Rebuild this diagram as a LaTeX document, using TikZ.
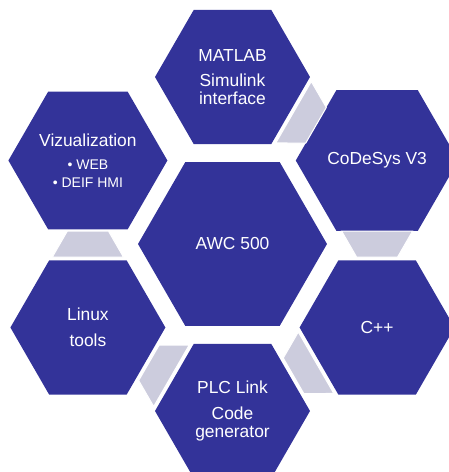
\documentclass[tikz,border=0pt]{standalone}
\usepackage{fontspec}
\setmainfont{Liberation Sans}
\usetikzlibrary{shapes.geometric,calc}
\definecolor{hexblue}{RGB}{51,51,153}
\definecolor{linkgrey}{RGB}{204,204,221}
\tikzset{
  hexcell/.style={regular polygon,regular polygon sides=6,fill=hexblue,inner sep=0pt,
    minimum size=155pt,text=white,align=center,font=\fontsize{17.4}{18.3}\selectfont},
  hexcore/.style={hexcell,minimum size=189pt},
  linkbox/.style={fill=linkgrey,draw=white,line width=1pt}
}
\newcommand\hexlink[2]{%
  \draw[linkbox] let \p1=(#1), \p2=(#2), \n1={atan2(\y2-\y1,\x2-\x1)} in
    ($(#1)!0.5!(#2)+(\n1+180:13pt)+(\n1+90:35.5pt)$) --
    ($(#1)!0.5!(#2)+(\n1:13pt)+(\n1+90:20.5pt)$) --
    ($(#1)!0.5!(#2)+(\n1:13pt)+(\n1-90:20.5pt)$) --
    ($(#1)!0.5!(#2)+(\n1+180:13pt)+(\n1-90:35.5pt)$) -- cycle;}
\newcommand\bulletfont{\fontsize{14}{17}\selectfont}
\begin{document}
\begin{tikzpicture}[x=1pt,y=-1pt]
\useasboundingbox (0,0) rectangle (449,472);
\node[hexcore] (awc) at (232.5,244) {AWC 500};
\node[hexcell] (mat) at (232.5,77) {MATLAB\\[6.7pt]Simulink\\interface};
\node[hexcell] (cds) at (377.1,160.5) {CoDeSys V3};
\node[hexcell] (cpp) at (377.1,327.5) {C++};
\node[hexcell] (plc) at (232.5,411) {PLC Link\\[7.7pt]Code\\generator};
\node[hexcell] (lnx) at (87.9,327.5) {Linux\\[7.4pt]tools};
\node[hexcell] (viz) at (87.9,160.5) {Vizualization\\[5pt]\bulletfont\textbullet\ WEB\\[-1pt]\bulletfont\textbullet\ DEIF HMI};
\hexlink{mat}{cds}
\hexlink{cds}{cpp}
\hexlink{cpp}{plc}
\hexlink{plc}{lnx}
\hexlink{lnx}{viz}
\end{tikzpicture}
\end{document}
